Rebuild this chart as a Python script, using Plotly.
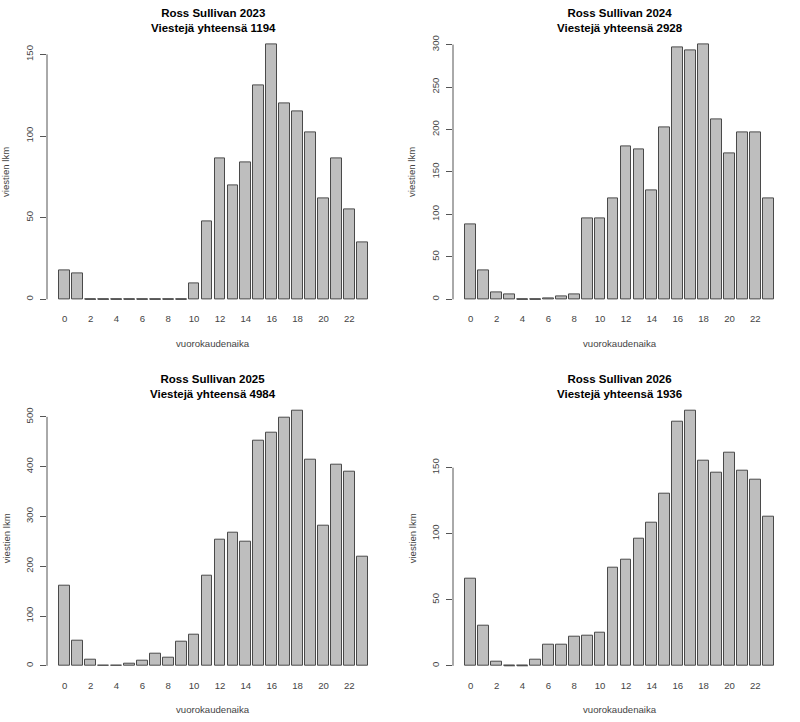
import plotly.graph_objects as go

hours = list(range(24))
tick_hours = list(range(0, 24, 2))

counts_2023 = [18, 16, 0, 0, 0, 0, 0, 0, 0, 0, 10, 48, 86, 70, 84, 131, 156, 120, 115, 102, 62, 86, 55, 35]
counts_2024 = [88, 34, 8, 6, 0, 0, 1, 3, 6, 95, 95, 119, 180, 176, 128, 203, 297, 293, 300, 212, 172, 196, 197, 119]
counts_2025 = [161, 50, 12, 1, 1, 4, 10, 25, 17, 49, 63, 180, 254, 267, 250, 453, 468, 498, 512, 413, 282, 404, 390, 220]
counts_2026 = [66, 30, 3, 0, 0, 5, 16, 16, 22, 23, 25, 74, 80, 96, 108, 130, 185, 193, 155, 146, 161, 148, 141, 113]

years = ["2023", "2024", "2025", "2026"]
series = [counts_2023, counts_2024, counts_2025, counts_2026]
yticks = [
    [0, 50, 100, 150],
    [0, 50, 100, 150, 200, 250, 300],
    [0, 100, 200, 300, 400, 500],
    [0, 50, 100, 150],
]
person = "Ross Sullivan"
x_title = "vuorokaudenaika"
y_title = "viestien lkm"

W, H = 800, 722
FONT = "Liberation Sans, Arial, Helvetica, sans-serif"
BAR_FILL = "#bebebe"
BAR_LINE = "#4a4a4a"
AXIS_COL = "#555555"
LABEL_COL = "#444444"

# plot regions in pixels: (left, right, top, bottom)
regions = [
    (47, 380, 34.4, 309.5),
    (453, 786, 34.4, 309.5),
    (47, 380, 400.7, 676),
    (453, 786, 400.7, 676),
]

space = 0.2  # R barplot spacing relative to bar width
bar_w = 1 / (1 + space)

fig = go.Figure()
annotations = []
shapes = []

for k, (yr, vals, tv, reg) in enumerate(zip(years, series, yticks, regions)):
    xa = "x" if k == 0 else f"x{k+1}"
    ya = "y" if k == 0 else f"y{k+1}"
    xkey = "xaxis" if k == 0 else f"xaxis{k+1}"
    ykey = "yaxis" if k == 0 else f"yaxis{k+1}"
    left, right, top, bottom = reg

    fig.add_trace(go.Bar(
        x=hours, y=vals, width=bar_w, xaxis=xa, yaxis=ya,
        marker=dict(color=BAR_FILL, line=dict(color=BAR_LINE, width=1)),
        showlegend=False, hoverinfo="x+y",
    ))
    # zero-height bars are drawn by R as flat outlines
    zx, zy = [], []
    for h, v in zip(hours, vals):
        if v == 0:
            zx += [h - bar_w / 2, h + bar_w / 2, None]
            zy += [0, 0, None]
    if zx:
        fig.add_trace(go.Scatter(
            x=zx, y=zy, mode="lines", xaxis=xa, yaxis=ya,
            line=dict(color=BAR_LINE, width=1), showlegend=False, hoverinfo="skip",
        ))

    n = len(hours)
    # R: xlim from first bar left to last bar right, extended by 4%
    r_lo = -bar_w / 2
    r_hi = (n - 1) + bar_w / 2
    ext = 0.04 * (r_hi - r_lo)
    ymax = max(vals)
    fig.layout[xkey] = dict(
        domain=[left / W, right / W], anchor=ya,
        range=[r_lo - ext, r_hi + ext],
        tickmode="array", tickvals=tick_hours, ticktext=[str(t) for t in tick_hours],
        ticks="", showline=False, showgrid=False, zeroline=False,
        tickfont=dict(family=FONT, size=9.6, color=LABEL_COL),
        ticklabelstandoff=2,
    )
    fig.layout[ykey] = dict(
        domain=[(H - bottom) / H, (H - top) / H], anchor=xa,
        range=[-0.04 * ymax, 1.04 * ymax],
        tickmode="array", tickvals=tv, ticktext=[str(t) for t in tv],
        ticks="outside", ticklen=6, tickcolor=AXIS_COL, tickwidth=1,
        tickangle=-90, showline=False, showgrid=False, zeroline=False,
        tickfont=dict(family=FONT, size=9.6, color=LABEL_COL),
        ticklabelstandoff=3,
    )
    shapes.append(dict(
        type="line", xref=f"{xa} domain", yref=ya,
        x0=0, x1=0, y0=tv[0], y1=tv[-1],
        line=dict(color=AXIS_COL, width=1),
    ))

    cx = (left + right) / 2 / W
    annotations.append(dict(
        text=f"<b>{person} {yr}<br>Viestejä yhteensä {sum(vals)}</b>",
        xref="paper", yref="paper", x=cx, y=(H - (top - 14)) / H,
        xanchor="center", yanchor="middle", showarrow=False,
        font=dict(family=FONT, size=11.5, color="#000000"),
    ))
    annotations.append(dict(
        text=x_title, xref="paper", yref="paper", x=cx, y=(H - (bottom + 33.5)) / H,
        xanchor="center", yanchor="middle", showarrow=False,
        font=dict(family=FONT, size=9.6, color=LABEL_COL),
    ))
    annotations.append(dict(
        text=y_title, xref="paper", yref="paper", x=(left - 41) / W, y=(H - (top + bottom) / 2) / H,
        xanchor="center", yanchor="middle", showarrow=False, textangle=-90,
        font=dict(family=FONT, size=9.6, color=LABEL_COL),
    ))

fig.update_layout(
    width=W, height=H,
    margin=dict(l=0, r=0, t=0, b=0),
    paper_bgcolor="white", plot_bgcolor="white",
    annotations=annotations, shapes=shapes,
    bargap=0, showlegend=False,
)

fig.write_html("out.html")
